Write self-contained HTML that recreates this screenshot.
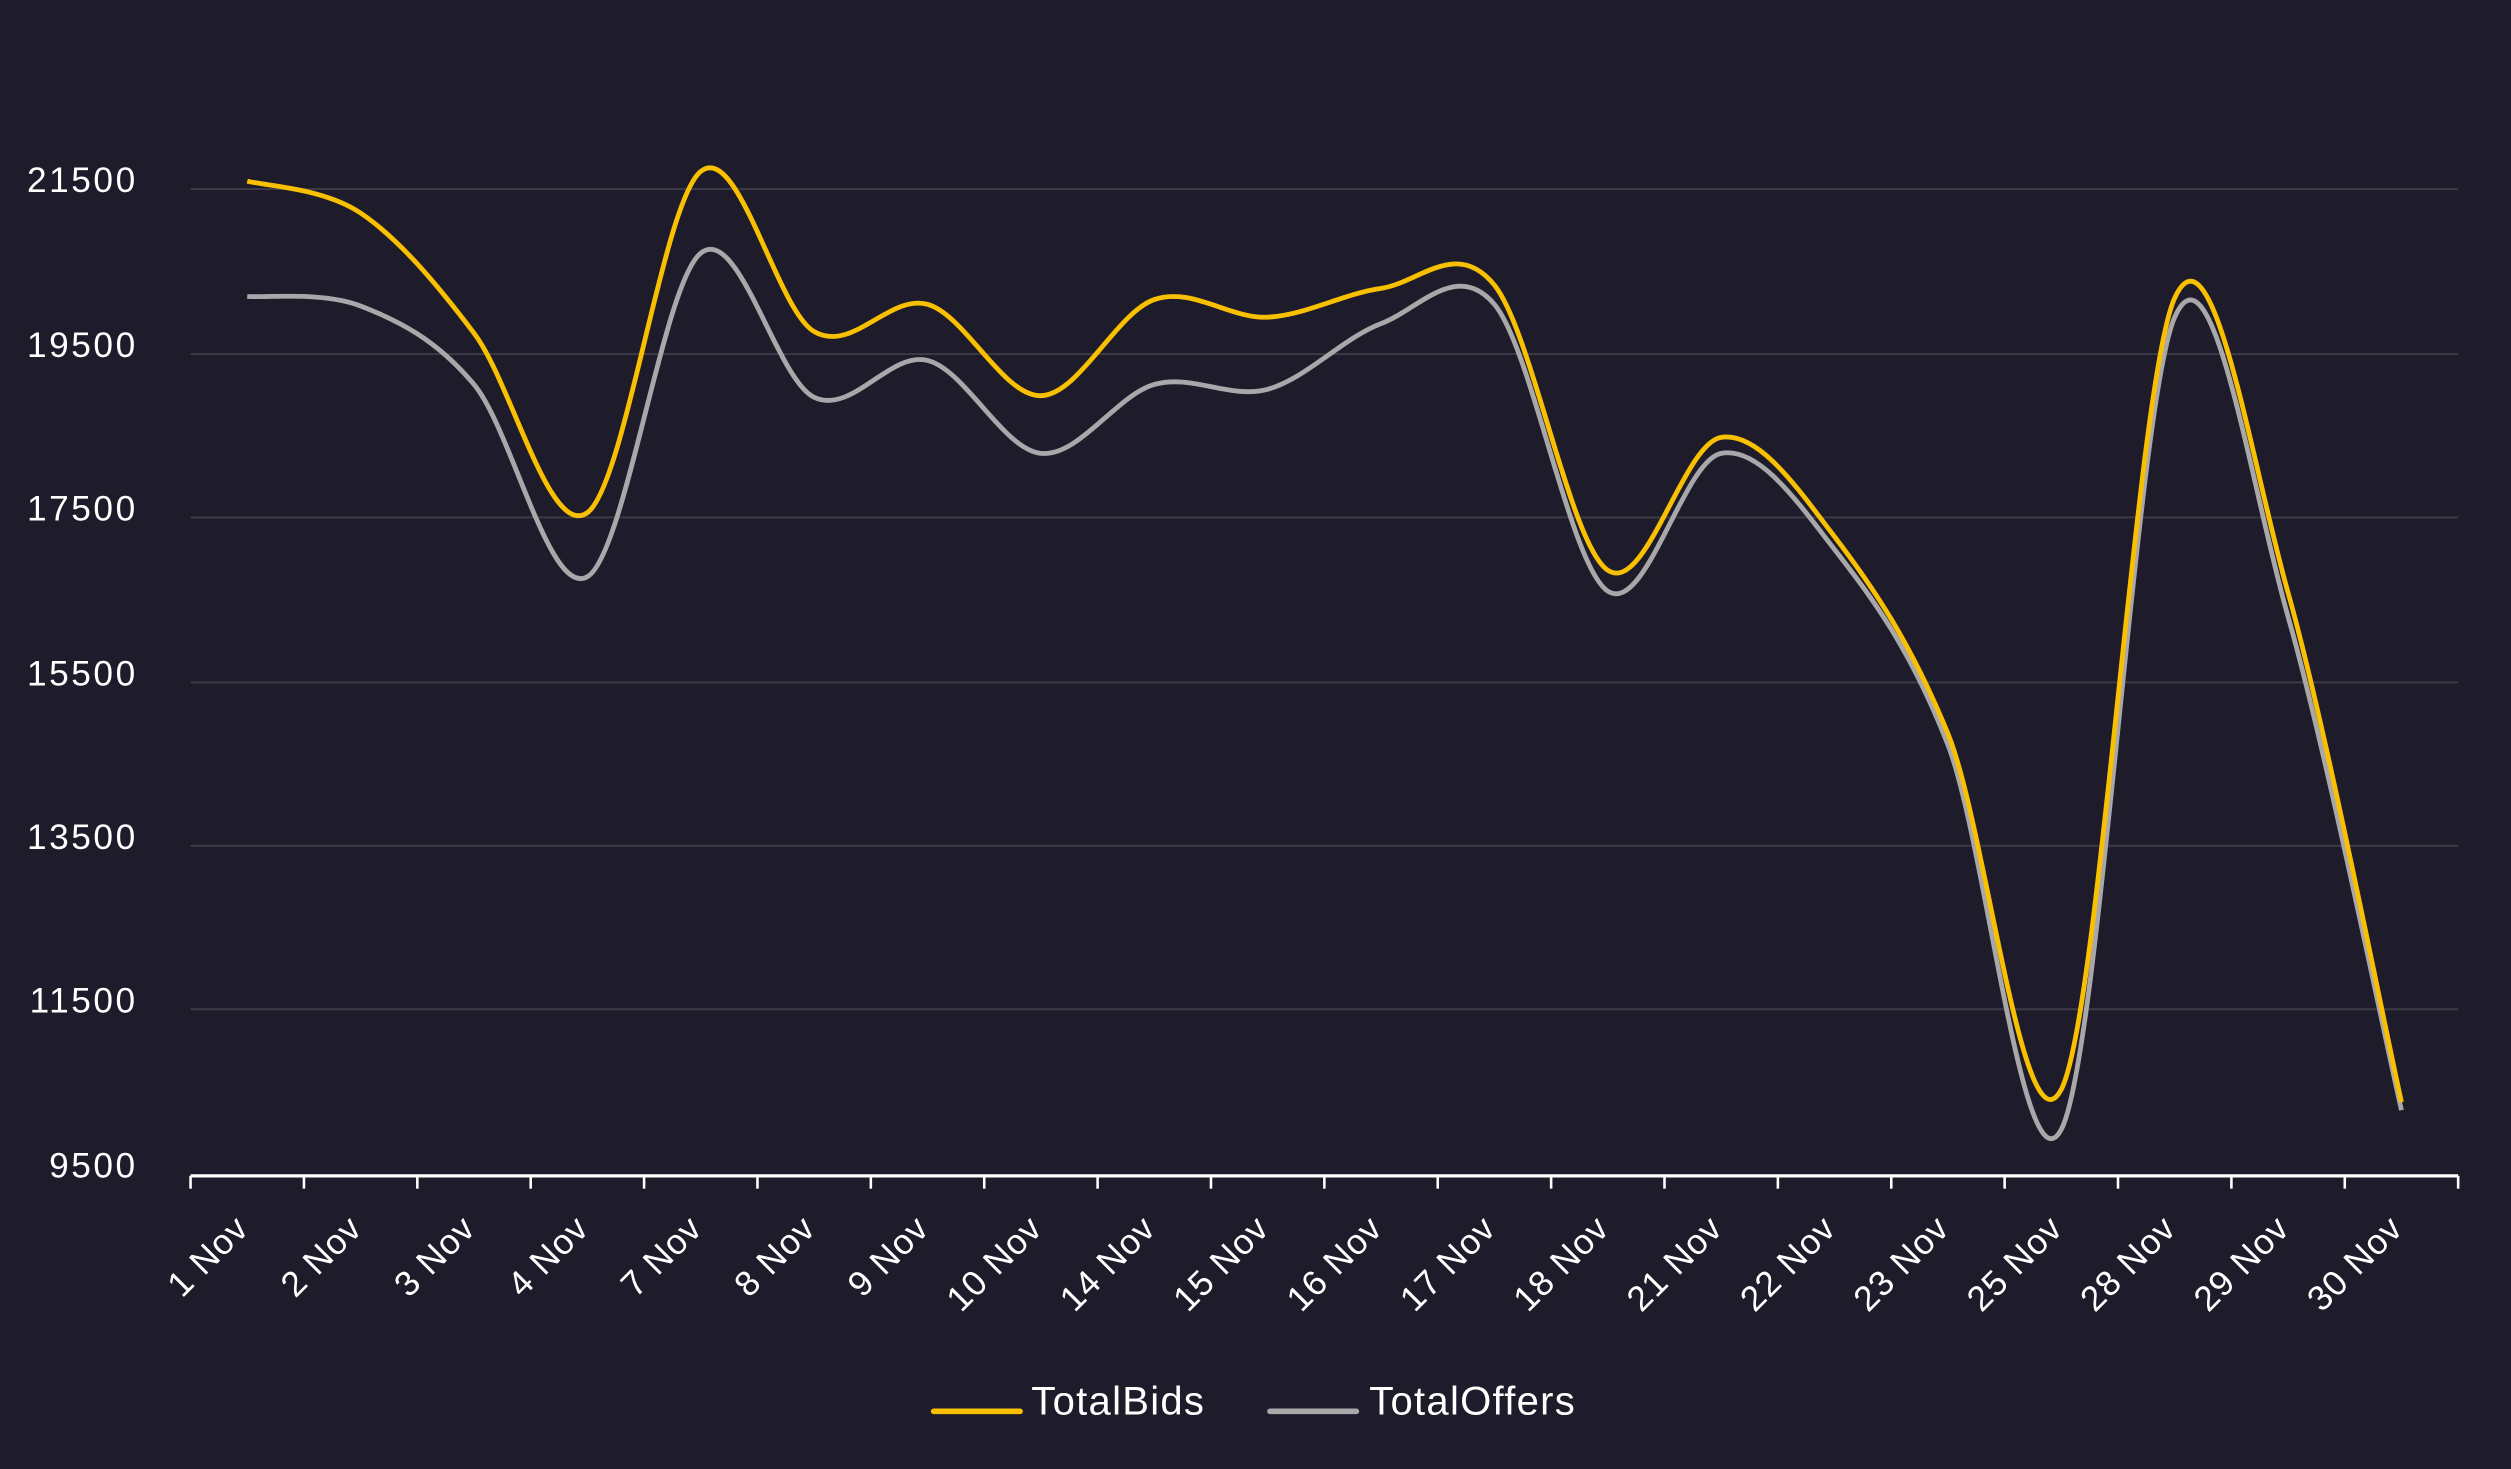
<!DOCTYPE html>
<html><head><meta charset="utf-8"><style>
html,body{margin:0;padding:0;background:#1e1c2a;}
svg{display:block}
text{font-family:"Liberation Sans",sans-serif;fill:#fff}
</style></head><body>
<svg id="c" width="2511" height="1469" viewBox="0 0 1568 917" preserveAspectRatio="none">
<rect width="1568" height="917" fill="#1e1c2a"/>
<g stroke="#3d3b47" stroke-width="1.2">
<line x1="119" x2="1535" y1="118" y2="118"/>
<line x1="119" x2="1535" y1="221" y2="221"/>
<line x1="119" x2="1535" y1="323" y2="323"/>
<line x1="119" x2="1535" y1="426" y2="426"/>
<line x1="119" x2="1535" y1="528" y2="528"/>
<line x1="119" x2="1535" y1="630" y2="630"/>
</g>
<g font-size="22" text-anchor="end" letter-spacing="1.6">
<text x="86" y="120">21500</text>
<text x="86" y="223">19500</text>
<text x="86" y="325">17500</text>
<text x="86" y="428">15500</text>
<text x="86" y="530">13500</text>
<text x="86" y="632">11500</text>
<text x="86" y="735">9500</text>
</g>
<line x1="119" x2="1535" y1="734" y2="734" stroke="#fff" stroke-width="2"/>
<g id="ticks" stroke="#fff" stroke-width="1.6"></g>
<g id="xl" font-size="22" text-anchor="end" letter-spacing="0.6"></g>
<path id="pO" fill="none" stroke="#a8a8ab" stroke-width="3"/>
<path id="pB" fill="none" stroke="#f8c000" stroke-width="3"/>
<line x1="583" x2="637" y1="881" y2="881" stroke="#f8c000" stroke-width="3.5" stroke-linecap="round"/>
<text x="644" y="883" font-size="25" letter-spacing="0.8">TotalBids</text>
<line x1="793" x2="847" y1="881" y2="881" stroke="#a8a8ab" stroke-width="3.5" stroke-linecap="round"/>
<text x="855" y="883" font-size="25" letter-spacing="0.8">TotalOffers</text>
</svg>
<script>
var ns="http://www.w3.org/2000/svg";
var labels=["1 Nov","2 Nov","3 Nov","4 Nov","7 Nov","8 Nov","9 Nov","10 Nov","14 Nov","15 Nov","16 Nov","17 Nov","18 Nov","21 Nov","22 Nov","23 Nov","25 Nov","28 Nov","29 Nov","30 Nov"];
var step=70.8, x0=119;
var tk=document.getElementById("ticks"), xl=document.getElementById("xl");
for(var i=0;i<=20;i++){var l=document.createElementNS(ns,"line");var x=x0+i*step;
l.setAttribute("x1",x);l.setAttribute("x2",x);l.setAttribute("y1",734);l.setAttribute("y2",742);tk.appendChild(l);}
labels.forEach(function(t,i){var cx=x0+step/2+i*step;var e=document.createElementNS(ns,"text");
e.setAttribute("transform","translate("+(cx+2)+",768) rotate(-45)");e.textContent=t;xl.appendChild(e);});
var B=[113,133,208,320,107,207,190,247,187,198,180,178,356,273,335,458,680,186,370,688];
var O=[185,191,240,360,158,248,225,283,240,243,202,190,369,283,343,465,705,198,385,693];
function path(Y){var P=Y.map(function(y,i){return [x0+step/2+i*step,y]});
var d="M"+P[0][0]+","+P[0][1];
for(var i=0;i<P.length-1;i++){var p0=P[i-1]||P[i],p1=P[i],p2=P[i+1],p3=P[i+2]||P[i+1];var k=1/6;
d+=" C"+(p1[0]+(p2[0]-p0[0])*k)+","+(p1[1]+(p2[1]-p0[1])*k)+" "+(p2[0]-(p3[0]-p1[0])*k)+","+(p2[1]-(p3[1]-p1[1])*k)+" "+p2[0]+","+p2[1];}
return d;}
document.getElementById("pB").setAttribute("d",path(B));
document.getElementById("pO").setAttribute("d",path(O));
</script>
</body></html>
